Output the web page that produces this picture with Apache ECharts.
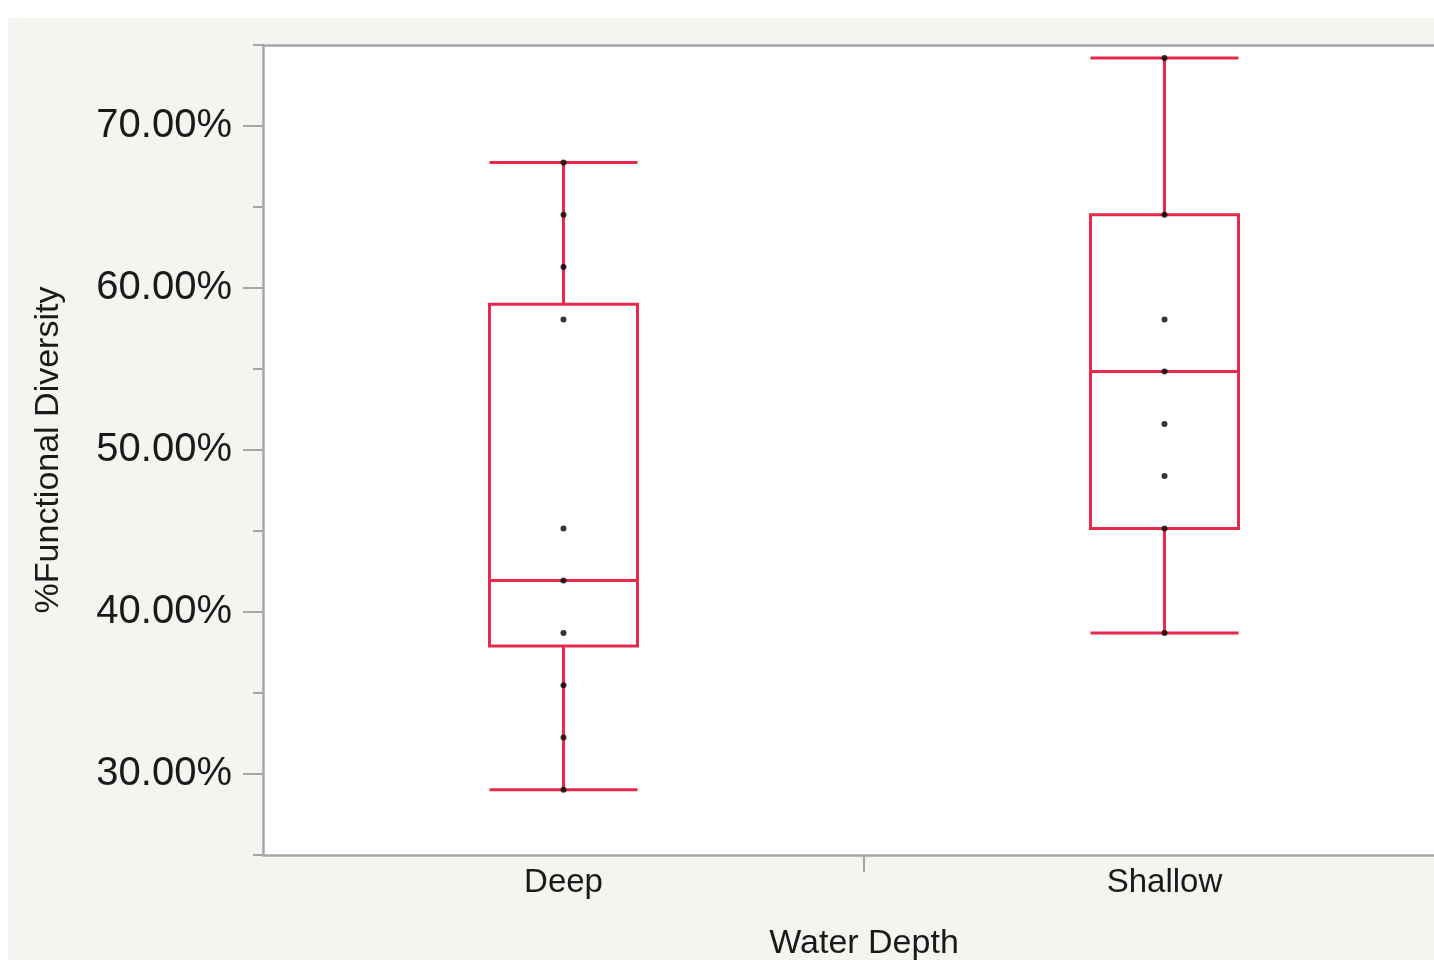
<!DOCTYPE html>
<html>
<head>
<meta charset="utf-8">
<script src="https://cdn.jsdelivr.net/npm/echarts@6/dist/echarts.min.js"></script>
<style>
html,body{margin:0;padding:0;background:#ffffff;}
#chart{width:1434px;height:960px;}
</style>
</head>
<body>
<div id="chart"></div>
<script>
const categories = ['Deep', 'Shallow'];
// box stats: [min, Q1, median, Q3, max] in %
const deepBox = [29.03, 37.9, 41.94, 59.0, 67.74];
const shallowBox = [38.71, 45.16, 54.84, 64.52, 74.19];
// individual observations in %
const deepPoints = [67.74, 64.52, 61.29, 58.06, 45.16, 41.94, 38.71, 35.48, 32.26, 29.03];
const shallowPoints = [74.19, 64.52, 58.06, 54.84, 51.61, 48.39, 45.16, 38.71];
const majorTicks = [30, 40, 50, 60, 70];
const minorTicks = [25, 35, 45, 55, 65, 75];

const FONT = 'Liberation Sans';
const AXIS_GRAY = '#a6a6a6';
const RED = '#e8284c';

const scatterData = [];
deepPoints.forEach(v => scatterData.push([0, v]));
shallowPoints.forEach(v => scatterData.push([1, v]));

const chart = echarts.init(document.getElementById('chart'), null, {renderer: 'canvas'});
chart.setOption({
  backgroundColor: '#ffffff',
  animation: false,
  graphic: [{
    type: 'rect', z: -10, silent: true,
    shape: {x: 8, y: 18, width: 1440, height: 960},
    style: {fill: '#f4f5f0'}
  }],
  grid: [
    {left: 263, top: 45, width: 1202, bottom: 105, show: true, backgroundColor: '#ffffff', borderWidth: 0, containLabel: false, outerBoundsMode: 'none'},
    {left: 263, top: 45, width: 1202, bottom: 105, show: false, containLabel: false, outerBoundsMode: 'none'}
  ],
  xAxis: [
    {
      type: 'category', gridIndex: 0, position: 'bottom', data: categories,
      boundaryGap: true,
      axisLine: {show: true, lineStyle: {color: AXIS_GRAY, width: 2.5}},
      axisTick: {show: false},
      axisLabel: {color: '#1a1a1a', fontFamily: FONT, fontSize: 33, margin: 11},
      splitLine: {show: false},
      name: 'Water Depth', nameLocation: 'middle', nameGap: 72,
      nameTextStyle: {color: '#1a1a1a', fontFamily: FONT, fontSize: 34}
    },
    {
      type: 'value', gridIndex: 0, position: 'top', min: 0, max: 2,
      axisLine: {show: true, lineStyle: {color: AXIS_GRAY, width: 2.5}},
      axisTick: {show: false}, axisLabel: {show: false}, splitLine: {show: false}
    },
    {
      type: 'value', gridIndex: 1, position: 'bottom', min: 0, max: 2,
      axisLine: {show: false},
      axisTick: {show: true, customValues: [1], length: 17, lineStyle: {color: AXIS_GRAY, width: 2}},
      axisLabel: {show: false}, splitLine: {show: false}
    }
  ],
  yAxis: [
    {
      type: 'value', gridIndex: 0, min: 25, max: 75, interval: 5,
      axisLine: {show: true, lineStyle: {color: AXIS_GRAY, width: 2.5}},
      axisTick: {show: true, customValues: majorTicks, length: 20, lineStyle: {color: AXIS_GRAY, width: 2}},
      axisLabel: {
        customValues: majorTicks,
        color: '#1a1a1a', fontFamily: FONT, fontSize: 40, margin: 31,
        formatter: v => v.toFixed(2) + '%'
      },
      splitLine: {show: false},
      name: '%Functional Diversity', nameLocation: 'middle', nameRotate: 90, nameGap: 197,
      nameTextStyle: {color: '#1a1a1a', fontFamily: FONT, fontSize: 34}
    },
    {
      type: 'value', gridIndex: 1, min: 25, max: 75, interval: 5,
      axisLine: {show: false},
      axisTick: {show: true, customValues: minorTicks, length: 10, lineStyle: {color: AXIS_GRAY, width: 2}},
      axisLabel: {show: false}, splitLine: {show: false}
    }
  ],
  series: [
    {
      type: 'boxplot', xAxisIndex: 0, yAxisIndex: 0,
      boxWidth: [148, 148],
      data: [deepBox, shallowBox],
      itemStyle: {color: '#ffffff', borderColor: RED, borderWidth: 3},
      emphasis: {disabled: true},
      z: 2
    },
    {
      type: 'scatter', xAxisIndex: 0, yAxisIndex: 0,
      data: scatterData,
      symbolSize: 6,
      itemStyle: {color: '#000000'},
      z: 3
    }
  ]
});
</script>
</body>
</html>
